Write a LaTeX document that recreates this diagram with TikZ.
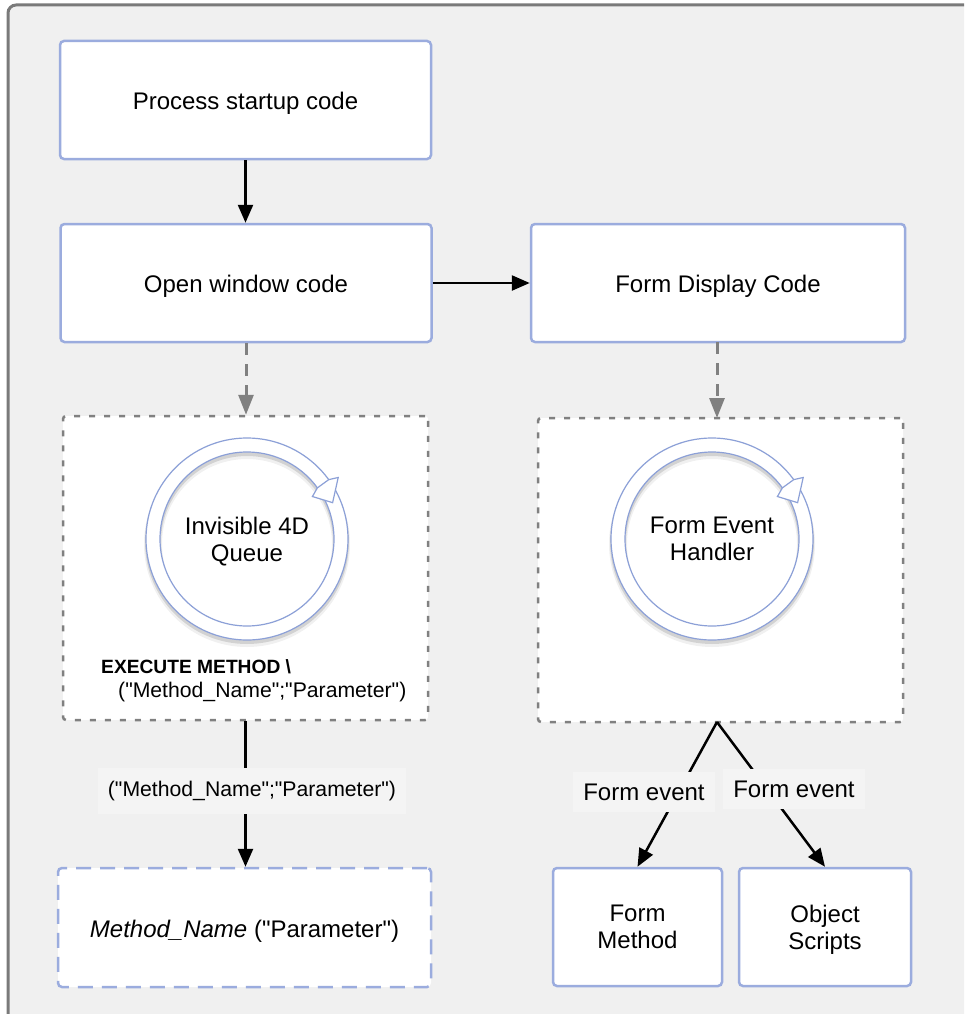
\documentclass[tikz,border=0pt]{standalone}
\usepackage{fontspec}
\newfontfamily\hv{Liberation Sans}
\usetikzlibrary{arrows.meta,calc}
\definecolor{bluebd}{RGB}{155,172,222}
\definecolor{ringblue}{RGB}{140,160,215}
\definecolor{framebg}{RGB}{240,240,240}
\definecolor{lblbg}{RGB}{244,244,244}
\definecolor{framebd}{RGB}{122,122,122}
\definecolor{dotgray}{RGB}{128,128,128}
\begin{document}
\begin{tikzpicture}[x=1pt,y=-1pt,
  every node/.style={font=\hv\fontsize{24}{27}\selectfont, align=center},
  small/.style={font=\hv\fontsize{21.2}{25}\selectfont},
  one/.style={text height=19.5pt, text depth=0pt},
  two/.style={text depth=-5pt},
  twoflat/.style={text depth=-9pt},
  bluebox/.style={draw=bluebd, line width=2.5pt, fill=white, rounded corners=4pt, inner sep=0pt, minimum height=118pt},
  dashbox/.style={bluebox, dash pattern=on 15pt off 9pt},
  dotbox/.style={draw=dotgray, line width=2.5pt, fill=white, rounded corners=3pt, dash pattern=on 6pt off 9pt, inner sep=0pt},
  arr/.style={line width=2.5pt, draw=black, -{Triangle[length=18pt,width=15pt]}},
  garr/.style={line width=3pt, draw=dotgray, dash pattern=on 12pt off 9pt, -{Triangle[length=20pt,width=15pt]}},
  lbl/.style={fill=lblbg, inner xsep=10pt, inner ysep=12pt},
  ringshadow/.style={fill=black, opacity=0.12, even odd rule},
  ringfill/.style={fill=white, draw=ringblue, line width=1.2pt, even odd rule},
  headfill/.style={fill=white, draw=ringblue, line width=1.2pt, line join=miter}
]
\useasboundingbox (0,0) rectangle (964,1014);
\begin{scope}
\clip (0,0) rectangle (964,1014);
\draw[fill=framebg, draw=framebd, line width=3pt, rounded corners=8pt] (8,5) rectangle (1100,1100);
\end{scope}

% top boxes
\node[bluebox, one, minimum width=371pt] (p1) at (245.5,100) {Process startup code};
\node[bluebox, one, minimum width=371pt] (p2) at (246,283) {Open window code};
\node[bluebox, one, minimum width=374pt] (p3) at (718,283) {Form Display Code};

% dotted containers
\node[dotbox, minimum width=365pt, minimum height=304pt] (q1) at (245.5,568) {};
\node[dotbox, minimum width=365pt, minimum height=304pt] (q2) at (720.5,570) {};

% rings
\coordinate (c1) at (247,539);
\coordinate (c2) at (712,539);
\foreach \c in {c1,c2}{
  \path[ringshadow] ([yshift=-3pt]\c) circle[radius=102pt] ([yshift=-3pt]\c) circle[radius=86pt];
  \path[ringshadow, opacity=0.06] ([yshift=-5pt]\c) circle[radius=103pt] ([yshift=-5pt]\c) circle[radius=85pt];
  \path[ringfill] (\c) circle[radius=101pt] (\c) circle[radius=87pt];
  \draw[headfill] ([shift={(33:78pt)}]\c) -- ([shift={(23:93pt)}]\c) -- ([shift={(34:110pt)}]\c) -- ([shift={(36:101pt)}]\c) -- ([shift={(36:87pt)}]\c) -- cycle;
}
\node[two] (t1) at (c1) {Invisible 4D\\Queue};
\node[twoflat] (t2) at (c2) {Form Event\\Handler};

\node[anchor=west, inner sep=0pt, font=\hv\bfseries\fontsize{19.2}{24}\selectfont] (ex) at (101,667) {EXECUTE METHOD \textbackslash};
\node[anchor=west, inner sep=0pt, small] (ex2) at (118,692) {("Method\_Name";"Parameter")};

% bottom boxes
\node[dashbox, one, minimum width=373pt, minimum height=119pt] (m) at (244.5,927.5) {\textit{Method\_Name} ("Parameter")};
\node[bluebox, twoflat, minimum width=169pt] (fm) at (637.5,927) {Form\\Method};
\node[bluebox, two, minimum width=172pt] (os) at (825,927) {Object\\Scripts};

% connectors
\draw[arr] (p1.south) -- (p1.south |- p2.north);
\draw[arr] (p2.east) -- (p3.west);
\draw[garr] (p2.south) -- (p2.south |- q1.north);
\draw[garr] (717,342) -- (717,418);

\draw[arr] (q1.south) -- (q1.south |- m.north);
\node[lbl, small, inner ysep=13pt] (l1) at (252,791) {("Method\_Name";"Parameter")};

\coordinate (split) at (717,722);
\draw[arr] (split) -- (fm.north);
\draw[arr] (split) -- (os.north);
\node[lbl] (fe1) at (644,792) {Form event};
\node[lbl] (fe2) at (794,789) {Form event};
\end{tikzpicture}
\end{document}
